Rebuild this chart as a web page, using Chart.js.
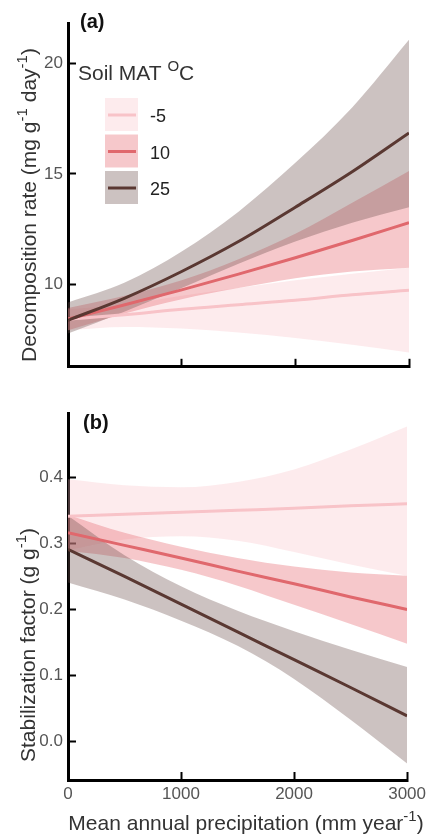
<!DOCTYPE html>
<html>
<head>
<meta charset="utf-8">
<script src="https://cdn.jsdelivr.net/npm/chart.js@4.4.0/dist/chart.umd.min.js"></script>
<style>
  body { margin: 0; background: #fff; }
  .panel { position: absolute; left: 0; }
  #panel-a { top: 0; }
  #panel-b { top: 390px; }
</style>
</head>
<body>
<div class="panel" id="panel-a"><canvas id="chartA" width="438" height="390" style="width:438px;height:390px"></canvas></div>
<div class="panel" id="panel-b"><canvas id="chartB" width="438" height="446" style="width:438px;height:446px"></canvas></div>
<script>
'use strict';

// Data

let precip = [0, 500, 1000, 1500, 2000, 2500, 3000];
let precipTicks = [0, 1000, 2000, 3000];
let tempLabels = ['-5', '10', '25'];

// (a) decomposition rate, mg g-1 day-1
let decompCold = [8.45, 8.65, 8.9, 9.1, 9.3, 9.55, 9.75];
let decompColdHi = [8.9, 9.1, 9.5, 9.85, 10.2, 10.5, 10.77];
let decompColdLo = [7.95, 8.1, 8.03, 7.85, 7.6, 7.3, 6.95];
let decompMild = [8.45, 9.1, 9.77, 10.48, 11.22, 12.0, 12.8];
let decompMildHi = [8.95, 9.5, 10.2, 11.15, 12.3, 13.7, 15.13];
let decompMildLo = [7.95, 8.7, 9.35, 9.85, 10.3, 10.6, 10.77];
let decompWarm = [8.4, 9.4, 10.6, 11.95, 13.5, 15.1, 16.85];
let decompWarmHi = [9.2, 10.1, 11.5, 13.3, 15.5, 18.0, 21.05];
let decompWarmLo = [7.8, 8.8, 9.85, 10.95, 11.95, 12.8, 13.5];
let decompTicks = [10, 15, 20];

// (b) stabilization factor, g g-1
let stabCold = [0.341, 0.344, 0.347, 0.35, 0.353, 0.357, 0.36];
let stabColdHi = [0.397, 0.388, 0.385, 0.393, 0.412, 0.442, 0.477];
let stabColdLo = [0.29, 0.306, 0.311, 0.304, 0.287, 0.268, 0.251];
let stabMild = [0.316, 0.297, 0.278, 0.258, 0.239, 0.219, 0.2];
let stabMildHi = [0.343, 0.316, 0.295, 0.278, 0.265, 0.256, 0.251];
let stabMildLo = [0.289, 0.278, 0.26, 0.236, 0.207, 0.178, 0.148];
let stabWarm = [0.291, 0.25, 0.208, 0.166, 0.124, 0.082, 0.039];
let stabWarmHi = [0.342, 0.282, 0.235, 0.198, 0.167, 0.139, 0.113];
let stabWarmLo = [0.241, 0.215, 0.183, 0.145, 0.095, 0.033, -0.033];
let stabTicks = [0, 0.1, 0.2, 0.3, 0.4];

// Styles

const FONT = '"Liberation Sans", Arial, sans-serif';
let lineColors = ['#f8c3c8', '#e0686d', '#5a3832'];
let bandColors = ['rgba(248, 190, 196, 0.3)', 'rgba(232, 110, 118, 0.38)', 'rgba(110, 80, 76, 0.35)'];

Chart.defaults.font.family = FONT;

function xy(values) {
  return precip.map((p, i) => ({ x: p, y: values[i] }));
}

// upper edge fills down to lower edge, then the fitted line on top
function seriesSets(mid, hi, lo, k) {
  let smooth = 'monotone';
  return [
    { data: xy(hi), borderColor: 'transparent', borderWidth: 0, pointRadius: 0, fill: '+1', backgroundColor: bandColors[k], cubicInterpolationMode: smooth },
    { data: xy(lo), borderColor: 'transparent', borderWidth: 0, pointRadius: 0, fill: false, cubicInterpolationMode: smooth },
    { data: xy(mid), borderColor: lineColors[k], borderWidth: 3, pointRadius: 0, fill: false, cubicInterpolationMode: smooth }
  ];
}

function axisGrid() {
  return { display: true, drawOnChartArea: false, drawTicks: true, tickLength: -8, tickColor: '#000', tickWidth: 2, color: '#000' };
}

// text with superscript bits: parts = [[text, isSup], ...]
function drawRich(ctx, parts, x, y, size, align) {
  let sup = Math.round(size * 0.72);
  let widths = parts.map(p => {
    ctx.font = (p[1] ? sup : size) + 'px ' + FONT;
    return ctx.measureText(p[0]).width;
  });
  let total = widths.reduce((a, b) => a + b, 0);
  let cx = align === 'center' ? x - total / 2 : x;
  ctx.textAlign = 'left';
  ctx.textBaseline = 'alphabetic';
  parts.forEach((p, i) => {
    ctx.font = (p[1] ? sup : size) + 'px ' + FONT;
    ctx.fillText(p[0], cx, p[1] ? y - size * 0.42 : y);
    cx += widths[i];
  });
}

function drawVertical(ctx, parts, x, y, size) {
  ctx.save();
  ctx.translate(x, y);
  ctx.rotate(-Math.PI / 2);
  drawRich(ctx, parts, 0, 0, size, 'center');
  ctx.restore();
}

function panelLabel(ctx, text, x, y) {
  ctx.font = 'bold 20px ' + FONT;
  ctx.fillStyle = '#111';
  ctx.textAlign = 'left';
  ctx.textBaseline = 'alphabetic';
  ctx.fillText(text, x, y);
}

function drawLegend(ctx) {
  ctx.fillStyle = '#333';
  drawRich(ctx, [['Soil MAT ', false], ['O', true], ['C', false]], 78, 80, 21, 'left');
  tempLabels.forEach((lab, k) => {
    let top = 98 + k * 36.5;
    ctx.fillStyle = bandColors[k];
    ctx.fillRect(105, top, 33, 33);
    ctx.strokeStyle = lineColors[k];
    ctx.lineWidth = 3;
    ctx.beginPath();
    ctx.moveTo(108, top + 17);
    ctx.lineTo(136, top + 17);
    ctx.stroke();
    ctx.font = '18px ' + FONT;
    ctx.fillStyle = '#222';
    ctx.fillText(lab, 150, top + 24);
  });
}

let textA = {
  id: 'textA',
  afterDraw(chart) {
    let ctx = chart.ctx;
    panelLabel(ctx, '(a)', 80, 28);
    ctx.fillStyle = '#333';
    drawVertical(ctx, [['Decomposition rate (mg g', false], ['-1', true], [' day', false], ['-1', true], [')', false]], 36, 205, 21);
    drawLegend(ctx);
  }
};

let textB = {
  id: 'textB',
  afterDraw(chart) {
    let ctx = chart.ctx;
    panelLabel(ctx, '(b)', 83, 39);
    ctx.fillStyle = '#333';
    drawVertical(ctx, [['Stabilization factor (g g', false], ['-1', true], [')', false]], 35, 255, 21);
    drawRich(ctx, [['Mean annual precipitation (mm year', false], ['-1', true], [')', false]], 246, 440, 21, 'center');
  }
};

function makeChart(canvasId, sets, yMin, yMax, yTicks, yFormat, showX, pad, xHeight, plugin) {
  let ctx = document.getElementById(canvasId).getContext('2d');
  return new Chart(ctx, {
    type: 'line',
    data: { datasets: sets },
    options: {
      responsive: false,
      animation: false,
      events: [],
      layout: { padding: pad },
      plugins: {
        legend: { display: false },
        tooltip: { enabled: false },
        filler: { drawTime: 'beforeDatasetsDraw' }
      },
      scales: {
        x: {
          type: 'linear',
          min: 0,
          max: 3000,
          afterBuildTicks: s => { s.ticks = precipTicks.map(v => ({ value: v })); },
          afterFit: s => { s.height = xHeight; },
          ticks: { display: showX, padding: 12, color: '#555', font: { size: 17 }, maxRotation: 0, callback: v => String(v) },
          grid: axisGrid(),
          border: { display: true, color: '#000', width: 3 }
        },
        y: {
          min: yMin,
          max: yMax,
          afterBuildTicks: s => { s.ticks = yTicks.map(v => ({ value: v })); },
          afterFit: s => { s.width = 68; },
          ticks: { padding: 13, color: '#555', font: { size: 17 }, callback: yFormat },
          grid: axisGrid(),
          border: { display: true, color: '#000', width: 3 }
        }
      }
    },
    plugins: [plugin]
  });
}

let setsA = [].concat(
  seriesSets(decompWarm, decompWarmHi, decompWarmLo, 2),
  seriesSets(decompMild, decompMildHi, decompMildLo, 1),
  seriesSets(decompCold, decompColdHi, decompColdLo, 0)
);

let setsB = [].concat(
  seriesSets(stabWarm, stabWarmHi, stabWarmLo, 2),
  seriesSets(stabMild, stabMildHi, stabMildLo, 1),
  seriesSets(stabCold, stabColdHi, stabColdLo, 0)
);

makeChart('chartA', setsA, 6.3, 21.8, decompTicks, v => String(v), false,
  { top: 10, right: 29, bottom: 4, left: 0 }, 8, textA);

makeChart('chartB', setsB, -0.058, 0.497, stabTicks, v => v.toFixed(1), true,
  { top: 22, right: 29, bottom: 0, left: 0 }, 56, textB);
</script>
</body>
</html>
